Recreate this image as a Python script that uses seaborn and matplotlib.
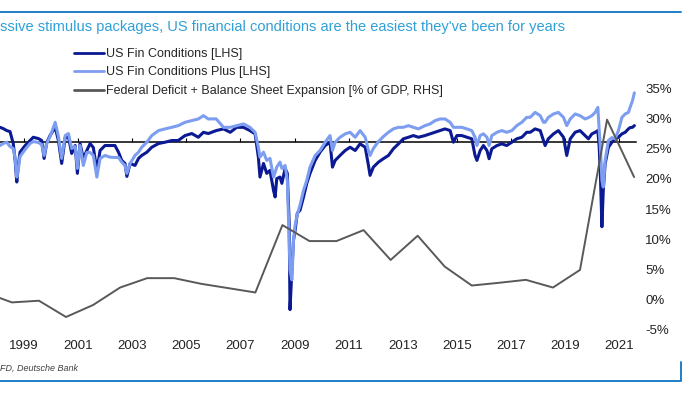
#!/usr/bin/env python3
"""US financial conditions vs federal deficit + balance sheet expansion (cropped DB chart)."""

import matplotlib
matplotlib.use("Agg")
import matplotlib.pyplot as plt
from matplotlib.lines import Line2D
import pandas as pd
import seaborn as sns

# ---- data ----------------------------------------------------------------
# LHS axis is cut off in the source, so the two FCI series are expressed on the
# same scale as the RHS (the zero line of the LHS sits at FCI_AVG).
fci_dates = [
    1998.11, 1998.23, 1998.36, 1998.48, 1998.60, 1998.67, 1998.73, 1998.79, 1998.85, 1999.04,
    1999.22, 1999.34, 1999.53, 1999.65, 1999.74, 1999.84, 1999.96, 2000.15, 2000.27, 2000.39,
    2000.52, 2000.64, 2000.76, 2000.89, 2000.97, 2001.07, 2001.19, 2001.32, 2001.44, 2001.56,
    2001.69, 2001.81, 2001.99, 2002.18, 2002.36, 2002.49, 2002.61, 2002.73, 2002.80, 2002.92,
    2003.10, 2003.23, 2003.35, 2003.54, 2003.72, 2003.97, 2004.21, 2004.46, 2004.70, 2004.95,
    2005.20, 2005.44, 2005.63, 2005.81, 2006.10, 2006.37, 2006.62, 2006.86, 2007.11, 2007.35,
    2007.54, 2007.66, 2007.72, 2007.85, 2007.97, 2008.09, 2008.22, 2008.28, 2008.34, 2008.46,
    2008.53, 2008.65, 2008.73, 2008.80, 2008.83, 2008.90, 2008.96, 2009.02, 2009.10, 2009.20,
    2009.33, 2009.45, 2009.57, 2009.76, 2009.94, 2010.13, 2010.31, 2010.40, 2010.50, 2010.68,
    2010.87, 2011.05, 2011.24, 2011.42, 2011.61, 2011.73, 2011.79, 2011.91, 2012.10, 2012.28,
    2012.47, 2012.65, 2012.84, 2013.02, 2013.21, 2013.39, 2013.58, 2013.82, 2014.01, 2014.19,
    2014.38, 2014.56, 2014.75, 2014.87, 2015.00, 2015.18, 2015.37, 2015.55, 2015.67, 2015.74,
    2015.86, 2015.98, 2016.11, 2016.19, 2016.29, 2016.48, 2016.66, 2016.84, 2017.03, 2017.21,
    2017.40, 2017.58, 2017.71, 2017.89, 2018.08, 2018.20, 2018.26, 2018.38, 2018.57, 2018.75,
    2018.94, 2019.06, 2019.19, 2019.37, 2019.55, 2019.74, 2019.86, 2019.99, 2020.11, 2020.21,
    2020.26, 2020.31, 2020.36, 2020.41, 2020.48, 2020.60, 2020.73, 2020.85, 2020.97, 2021.10,
    2021.22, 2021.34, 2021.40, 2021.49, 2021.56,
]
fci = [
    28.50, 28.29, 27.96, 27.80, 25.82, 23.03, 19.46, 22.20, 24.39, 25.49,
    26.32, 26.86, 26.64, 26.32, 23.36, 25.99, 27.14, 28.50, 26.32, 22.53,
    26.81, 26.97, 24.18, 25.49, 20.89, 25.82, 23.36, 24.67, 25.82, 25.16,
    21.38, 24.67, 25.49, 25.49, 25.49, 24.39, 23.03, 22.53, 20.39, 22.53,
    22.20, 23.36, 23.85, 24.39, 25.21, 25.82, 26.04, 26.32, 26.32, 27.14,
    27.47, 26.86, 27.68, 27.47, 27.96, 28.24, 27.68, 28.50, 28.50, 27.96,
    27.42, 23.57, 20.28, 22.53, 20.89, 21.38, 18.09, 16.99, 20.02, 20.28,
    19.24, 21.71, 20.89, 12.66, -1.64, 4.93, 9.87, 11.51, 14.31, 14.80,
    16.99, 19.24, 20.89, 23.03, 24.39, 25.49, 26.04, 21.92, 23.03, 23.85,
    24.67, 25.21, 24.67, 25.77, 25.21, 22.20, 20.56, 21.92, 22.75, 23.31,
    23.85, 24.95, 25.77, 26.60, 26.86, 27.14, 26.86, 27.14, 27.42, 27.68,
    27.96, 28.24, 27.96, 26.04, 27.14, 27.14, 26.86, 26.60, 23.85, 23.03,
    24.67, 25.49, 24.67, 23.31, 24.95, 25.49, 25.77, 25.49, 26.04, 26.60,
    26.86, 27.68, 27.68, 28.24, 27.96, 26.32, 25.49, 26.60, 27.42, 27.96,
    26.86, 23.85, 26.60, 27.68, 27.96, 27.14, 26.60, 27.42, 27.68, 27.96,
    25.21, 19.74, 12.06, 18.09, 22.48, 25.21, 26.04, 26.60, 26.86, 27.42,
    27.68, 28.24, 28.45, 28.50, 28.78,
]
fci_plus = [
    25.49, 25.82, 26.04, 25.33, 25.00, 23.36, 20.28, 21.71, 23.68, 24.84,
    25.82, 26.15, 25.99, 25.66, 23.85, 25.82, 26.97, 29.33, 26.97, 23.36,
    27.14, 27.47, 25.00, 25.33, 21.71, 25.49, 22.20, 24.34, 24.34, 23.85,
    20.28, 23.36, 23.85, 23.57, 23.52, 23.52, 22.75, 22.20, 20.89, 22.53,
    23.85, 24.39, 25.21, 26.04, 27.14, 27.96, 28.24, 28.50, 28.78, 29.33,
    29.61, 29.88, 30.43, 29.88, 29.90, 28.50, 28.50, 28.78, 29.06, 28.50,
    27.68, 25.21, 23.57, 24.39, 23.03, 23.36, 20.28, 21.05, 21.92, 22.75,
    21.71, 22.20, 19.74, 9.87, 4.93, 3.29, 9.87, 12.34, 14.14, 15.63,
    18.09, 19.74, 21.92, 23.85, 24.67, 26.04, 27.14, 24.67, 26.04, 26.86,
    27.42, 27.68, 26.86, 27.96, 26.86, 24.67, 23.85, 25.00, 26.15, 26.97,
    27.68, 28.24, 28.50, 28.50, 28.78, 28.50, 28.24, 28.78, 29.06, 29.61,
    29.88, 29.88, 29.33, 28.50, 28.50, 28.50, 28.24, 27.96, 26.86, 25.49,
    27.14, 27.42, 26.86, 25.49, 27.14, 27.68, 27.96, 27.68, 27.96, 28.78,
    29.33, 30.15, 30.15, 30.97, 30.43, 29.33, 29.33, 30.15, 30.71, 30.97,
    30.15, 28.78, 29.88, 30.71, 30.43, 29.88, 30.10, 30.43, 30.97, 31.79,
    27.96, 24.67, 19.74, 18.63, 23.03, 26.32, 26.81, 26.60, 27.96, 30.15,
    30.71, 30.97, 31.79, 32.89, 34.20,
]
FCI_AVG = 26.07  # where the LHS axis crosses

deficit_years = list(range(1997, 2022))
deficit = [
    1.2, -0.44, -0.16, -2.85, -0.87, 2.02, 3.57, 3.57, 2.63, 1.92, 1.20, 12.34,
    9.70, 9.70, 11.51, 6.58, 10.58, 5.48, 2.35, 2.80, 3.29, 2.02, 4.93, 29.77, 20.28,
]

x_ticks = list(range(1999, 2022, 2))
rhs_ticks = list(range(-5, 40, 5))
labels = [
    "US Fin Conditions [LHS]",
    "US Fin Conditions Plus [LHS]",
    "Federal Deficit + Balance Sheet Expansion [% of GDP, RHS]",
]

DARK = "#0b1a92"
LIGHT = "#7d9ef0"
GREY = "#595959"
TITLE = "#2fa0d8"
RULE = "#1f7fc8"

W, H = 700, 394
YLO, YHI = -5, 35
XLO, XHI = 1998.11, 2021.62


def main() -> None:
    sns.set_theme(style="white")
    plt.rcParams["font.family"] = ["Liberation Sans", "DejaVu Sans"]

    fig = plt.figure(figsize=(W / 100, H / 100), dpi=100, facecolor="white")
    ax = fig.add_axes([0, (H - 330) / H, 636 / W, (330 - 88) / H])

    df = pd.DataFrame({"date": fci_dates, "fci": fci, "fci_plus": fci_plus})
    sns.lineplot(data=df, x="date", y="fci", ax=ax, color=DARK, linewidth=2.2)
    sns.lineplot(data=df, x="date", y="fci_plus", ax=ax, color=LIGHT, linewidth=2.2)

    ax2 = ax.twinx()
    dd = pd.DataFrame({"date": [y + 0.55 for y in deficit_years], "deficit": deficit})
    sns.lineplot(data=dd, x="date", y="deficit", ax=ax2, color=GREY, linewidth=1.4)

    for a in (ax, ax2):
        a.set_xlim(XLO, XHI)
        a.set_ylim(YLO, YHI)
        a.set_xlabel("")
        a.set_ylabel("")
        for s in a.spines.values():
            s.set_visible(False)

    ax.set_yticks([])
    ax.set_xticks(x_ticks)
    ax.set_xticklabels([str(y) for y in x_ticks])
    ax.tick_params(axis="x", length=0, pad=7.5, labelsize=9.5, labelcolor="#222222")

    ax2.set_yticks(rhs_ticks)
    ax2.set_yticklabels([f"{v}%" for v in rhs_ticks])
    ax2.tick_params(axis="y", length=0, pad=6.5, labelsize=9.5, labelcolor="#222222")

    # LHS axis line crossing at the average level, small ticks pointing up
    sec = ax.secondary_xaxis((FCI_AVG - YLO) / (YHI - YLO))
    sec.set_xticks(x_ticks)
    sec.tick_params(axis="x", direction="out", length=3, width=0.8, color="black",
                    labeltop=False, labelbottom=False)
    for s in sec.spines.values():
        s.set_color("black")
        s.set_linewidth(1.1)

    handles = [
        Line2D([], [], color=DARK, lw=2.0),
        Line2D([], [], color=LIGHT, lw=2.0),
        Line2D([], [], color=GREY, lw=2.0),
    ]
    fig.legend(handles, labels, loc="upper left", bbox_to_anchor=(74 / W, 1 - 48 / H),
               frameon=False, fontsize=9, handlelength=2.4, handletextpad=0.15,
               labelspacing=0.52, borderpad=0, borderaxespad=0)

    fig.text(0, 1 - 27 / H,
             "ssive stimulus packages, US financial conditions are the easiest they've been for years",
             color=TITLE, fontsize=10.5, ha="left", va="center")
    fig.text(0, 1 - 368 / H, "FD, Deutsche Bank", color="#404040", fontsize=6.5,
             style="italic", ha="left", va="center")

    # blue rules of the exhibit frame
    fig.add_artist(Line2D([0, 681 / W], [1 - 12 / H] * 2, color=RULE, lw=1.4,
                          transform=fig.transFigure))
    fig.add_artist(Line2D([0, 681 / W, 681 / W], [1 - 380.5 / H, 1 - 380.5 / H, 1 - 362 / H],
                          color=RULE, lw=1.4, transform=fig.transFigure))

    fig.savefig("out.png", dpi=100, facecolor="white")
    plt.close(fig)


if __name__ == "__main__":
    main()
